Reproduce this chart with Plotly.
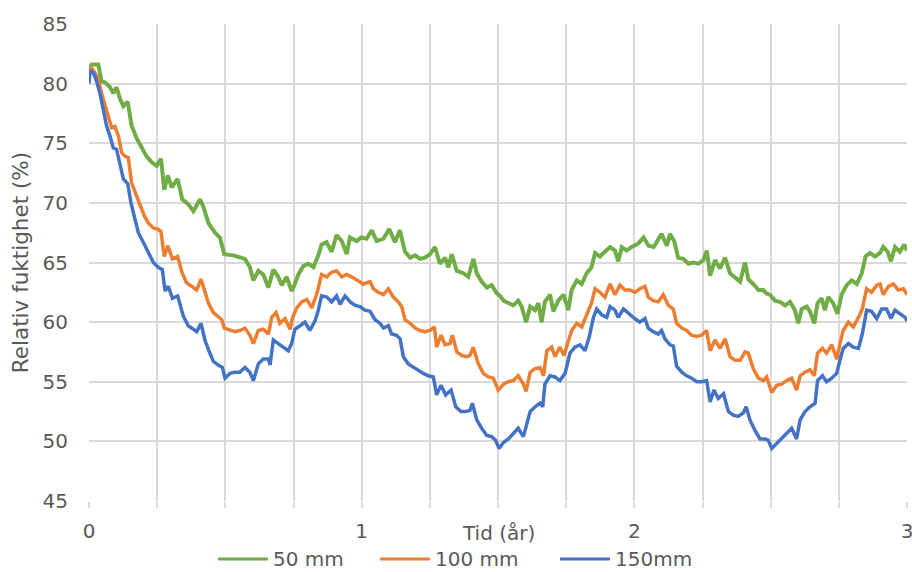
import plotly.graph_objects as go

# Relative humidity (%) over time (years) at three depths
t_50 = [0.000, 0.010, 0.034, 0.046, 0.059, 0.077, 0.089, 0.101, 0.114, 0.126, 0.142, 0.156, 0.175, 0.193,
        0.211, 0.230, 0.248, 0.264, 0.276, 0.289, 0.303, 0.325, 0.342, 0.364, 0.383, 0.407, 0.419, 0.438,
        0.462, 0.480, 0.496, 0.529, 0.554, 0.572, 0.590, 0.603, 0.621, 0.639, 0.658, 0.676, 0.694, 0.707,
        0.725, 0.743, 0.755, 0.768, 0.786, 0.804, 0.823, 0.841, 0.853, 0.871, 0.890, 0.908, 0.927, 0.945,
        0.957, 0.982, 0.998, 1.018, 1.037, 1.055, 1.080, 1.101, 1.122, 1.140, 1.159, 1.178, 1.196, 1.214,
        1.232, 1.251, 1.269, 1.287, 1.306, 1.318, 1.330, 1.349, 1.373, 1.391, 1.410, 1.422, 1.440, 1.459,
        1.477, 1.496, 1.508, 1.520, 1.538, 1.556, 1.574, 1.587, 1.603, 1.618, 1.636, 1.648, 1.660, 1.672,
        1.691, 1.703, 1.721, 1.740, 1.758, 1.770, 1.789, 1.807, 1.825, 1.843, 1.856, 1.874, 1.892, 1.911,
        1.929, 1.941, 1.954, 1.972, 1.990, 2.009, 2.015, 2.034, 2.052, 2.071, 2.083, 2.100, 2.119, 2.131,
        2.146, 2.161, 2.180, 2.198, 2.217, 2.235, 2.253, 2.266, 2.278, 2.296, 2.314, 2.333, 2.351, 2.369,
        2.388, 2.406, 2.418, 2.436, 2.455, 2.473, 2.485, 2.497, 2.516, 2.534, 2.553, 2.571, 2.589, 2.601,
        2.614, 2.632, 2.644, 2.660, 2.672, 2.687, 2.699, 2.711, 2.729, 2.745, 2.760, 2.779, 2.797, 2.816,
        2.834, 2.848, 2.864, 2.883, 2.901, 2.913, 2.929, 2.941, 2.956, 2.974, 2.990, 3.000]
rh_50 = [81.3, 81.6, 81.6, 80.2, 80.1, 79.7, 79.2, 79.7, 78.7, 78.1, 78.5, 76.5, 75.4, 74.6,
         73.9, 73.4, 73.1, 73.7, 71.1, 72.3, 71.3, 72.0, 70.3, 69.9, 69.3, 70.3, 69.7, 68.3,
         67.5, 67.1, 65.7, 65.6, 65.4, 65.3, 64.6, 63.5, 64.3, 64.0, 62.9, 64.4, 63.8, 63.1,
         63.8, 62.6, 63.2, 64.0, 64.7, 64.9, 64.6, 65.6, 66.5, 66.7, 65.9, 67.3, 66.8, 65.7,
         67.1, 66.8, 67.1, 67.0, 67.7, 66.8, 67.0, 67.8, 66.7, 67.7, 65.9, 65.4, 65.6, 65.3,
         65.4, 65.7, 66.3, 64.9, 65.4, 64.6, 65.7, 64.3, 64.1, 63.8, 65.3, 64.1, 63.4, 62.9,
         63.1, 62.4, 62.2, 61.8, 61.6, 61.4, 61.8, 61.3, 60.0, 61.3, 61.0, 61.6, 60.0, 61.7,
         62.3, 60.9, 61.8, 62.3, 61.0, 62.7, 63.5, 63.2, 64.1, 64.6, 65.8, 65.5, 65.9, 66.3,
         66.0, 65.1, 66.3, 66.0, 66.3, 66.5, 66.6, 67.1, 66.4, 66.3, 66.7, 67.4, 66.4, 67.4,
         66.8, 65.4, 65.3, 64.9, 65.0, 64.9, 65.2, 66.0, 63.9, 65.2, 64.5, 65.4, 64.1, 63.8,
         63.4, 65.0, 63.6, 63.2, 62.7, 62.7, 62.4, 62.3, 61.8, 61.7, 61.4, 61.7, 61.0, 59.9,
         61.1, 61.3, 60.9, 59.9, 61.6, 62.0, 61.0, 62.1, 61.6, 60.7, 62.3, 63.1, 63.5, 63.2,
         64.1, 65.5, 65.8, 65.5, 65.8, 66.3, 65.9, 65.1, 66.3, 65.9, 66.5, 66.0]

t_100 = [0.000, 0.010, 0.022, 0.034, 0.046, 0.059, 0.071, 0.083, 0.095, 0.108, 0.120, 0.132, 0.144, 0.156,
         0.169, 0.187, 0.203, 0.218, 0.236, 0.252, 0.264, 0.276, 0.289, 0.306, 0.325, 0.342, 0.358, 0.377,
         0.395, 0.411, 0.423, 0.438, 0.456, 0.474, 0.487, 0.496, 0.517, 0.535, 0.553, 0.572, 0.590, 0.603,
         0.621, 0.639, 0.658, 0.670, 0.686, 0.700, 0.719, 0.737, 0.747, 0.762, 0.780, 0.799, 0.817, 0.836,
         0.853, 0.872, 0.890, 0.908, 0.927, 0.945, 0.963, 0.982, 1.006, 1.031, 1.043, 1.061, 1.080, 1.098,
         1.116, 1.134, 1.147, 1.159, 1.178, 1.196, 1.214, 1.232, 1.251, 1.267, 1.275, 1.291, 1.306, 1.324,
         1.333, 1.349, 1.367, 1.386, 1.397, 1.409, 1.428, 1.446, 1.465, 1.483, 1.501, 1.520, 1.538, 1.556,
         1.574, 1.593, 1.603, 1.618, 1.636, 1.654, 1.667, 1.679, 1.697, 1.709, 1.727, 1.742, 1.758, 1.770,
         1.789, 1.807, 1.825, 1.843, 1.856, 1.874, 1.892, 1.911, 1.929, 1.947, 1.966, 1.984, 2.002, 2.020,
         2.039, 2.051, 2.069, 2.088, 2.106, 2.125, 2.143, 2.155, 2.174, 2.192, 2.210, 2.229, 2.247, 2.265,
         2.278, 2.296, 2.314, 2.333, 2.351, 2.369, 2.388, 2.406, 2.418, 2.436, 2.455, 2.473, 2.485, 2.498,
         2.504, 2.522, 2.540, 2.559, 2.577, 2.595, 2.608, 2.626, 2.644, 2.660, 2.672, 2.690, 2.705, 2.724,
         2.742, 2.754, 2.766, 2.785, 2.803, 2.822, 2.836, 2.852, 2.870, 2.889, 2.901, 2.913, 2.932, 2.950,
         2.968, 2.987, 3.000]
rh_100 = [81.2, 81.3, 80.9, 80.4, 79.2, 78.1, 77.3, 76.3, 76.4, 75.6, 74.2, 73.9, 73.8, 71.7,
          70.9, 69.9, 68.9, 68.3, 67.9, 67.8, 67.6, 65.5, 66.4, 65.3, 65.5, 64.1, 63.3, 63.0,
          62.7, 63.6, 62.7, 61.6, 60.8, 60.5, 60.2, 59.5, 59.3, 59.2, 59.3, 59.5, 58.9, 58.2,
          59.3, 59.4, 59.0, 60.4, 60.8, 59.9, 60.3, 59.4, 60.4, 61.2, 61.7, 61.9, 61.2, 62.4,
          64.0, 63.8, 64.2, 64.3, 63.8, 64.0, 63.8, 63.5, 63.2, 63.4, 62.8, 62.5, 62.3, 62.8,
          62.1, 61.7, 61.3, 60.2, 59.9, 59.5, 59.3, 59.2, 59.3, 59.6, 57.9, 58.9, 58.1, 58.2,
          58.9, 57.5, 57.2, 57.1, 57.2, 57.9, 56.5, 55.7, 55.4, 55.3, 54.3, 54.8, 55.0, 55.1,
          55.5, 54.8, 54.2, 55.8, 56.1, 56.2, 55.5, 57.6, 57.9, 57.1, 57.9, 57.2, 58.5, 59.3,
          59.9, 59.6, 60.6, 61.6, 62.8, 62.5, 62.1, 63.2, 62.3, 63.1, 62.7, 62.7, 62.5, 62.8,
          63.0, 62.1, 61.8, 61.7, 62.3, 61.4, 61.1, 59.9, 59.5, 59.3, 58.9, 58.8, 58.9, 59.3,
          57.6, 58.5, 57.8, 58.6, 57.1, 56.8, 56.8, 57.5, 57.4, 56.1, 55.3, 55.1, 55.4, 54.4,
          54.1, 54.7, 54.8, 55.1, 55.3, 54.3, 55.5, 55.8, 56.0, 55.5, 57.4, 57.8, 57.4, 58.1,
          56.9, 58.2, 59.3, 60.0, 59.6, 60.4, 61.1, 62.8, 62.5, 63.1, 63.2, 62.3, 63.0, 63.2,
          62.7, 62.8, 62.3]

t_150 = [0.000, 0.004, 0.016, 0.028, 0.040, 0.053, 0.065, 0.077, 0.089, 0.101, 0.114, 0.126, 0.142, 0.154,
         0.169, 0.181, 0.199, 0.218, 0.236, 0.254, 0.269, 0.279, 0.291, 0.306, 0.325, 0.346, 0.364, 0.383,
         0.395, 0.411, 0.425, 0.438, 0.456, 0.474, 0.489, 0.499, 0.517, 0.535, 0.553, 0.572, 0.590, 0.603,
         0.621, 0.639, 0.658, 0.664, 0.676, 0.694, 0.714, 0.731, 0.743, 0.755, 0.774, 0.792, 0.810, 0.829,
         0.841, 0.853, 0.872, 0.890, 0.908, 0.921, 0.939, 0.958, 0.976, 0.994, 1.012, 1.031, 1.049, 1.067,
         1.080, 1.098, 1.110, 1.128, 1.141, 1.153, 1.171, 1.190, 1.208, 1.226, 1.244, 1.263, 1.275, 1.291,
         1.308, 1.328, 1.345, 1.364, 1.381, 1.397, 1.406, 1.422, 1.440, 1.459, 1.477, 1.491, 1.504, 1.520,
         1.538, 1.556, 1.574, 1.593, 1.603, 1.618, 1.636, 1.654, 1.664, 1.672, 1.691, 1.709, 1.727, 1.746,
         1.764, 1.782, 1.801, 1.819, 1.835, 1.850, 1.862, 1.881, 1.899, 1.911, 1.929, 1.941, 1.960, 1.978,
         1.996, 2.020, 2.039, 2.051, 2.069, 2.088, 2.100, 2.112, 2.131, 2.143, 2.155, 2.174, 2.192, 2.210,
         2.229, 2.247, 2.265, 2.278, 2.292, 2.308, 2.327, 2.345, 2.363, 2.381, 2.400, 2.410, 2.424, 2.443,
         2.461, 2.479, 2.491, 2.504, 2.522, 2.540, 2.559, 2.577, 2.595, 2.608, 2.626, 2.644, 2.663, 2.672,
         2.690, 2.705, 2.724, 2.742, 2.754, 2.766, 2.785, 2.803, 2.822, 2.836, 2.852, 2.870, 2.889, 2.907,
         2.925, 2.941, 2.956, 2.974, 2.993, 3.000]
rh_150 = [80.0, 81.1, 80.9, 80.2, 79.2, 77.8, 76.4, 75.6, 74.6, 74.5, 73.1, 72.0, 71.6, 70.0,
          68.6, 67.5, 66.7, 65.8, 65.0, 64.6, 64.4, 62.6, 63.0, 62.0, 62.2, 60.5, 59.7, 59.4,
          59.2, 59.9, 58.5, 57.7, 56.7, 56.4, 56.2, 55.3, 55.7, 55.8, 55.8, 56.2, 55.8, 55.1,
          56.5, 56.9, 56.9, 56.4, 58.5, 58.2, 57.9, 57.6, 58.2, 59.4, 59.7, 60.0, 59.3, 60.1,
          61.0, 62.2, 62.1, 61.7, 62.2, 61.5, 62.2, 61.7, 61.4, 61.3, 61.0, 60.9, 60.2, 59.9,
          59.5, 59.7, 59.0, 58.9, 58.6, 57.1, 56.5, 56.2, 56.0, 55.7, 55.5, 55.4, 53.9, 54.7,
          53.9, 54.3, 52.9, 52.5, 52.5, 52.6, 53.2, 51.8, 51.1, 50.5, 50.4, 50.1, 49.4, 49.9,
          50.2, 50.6, 51.1, 50.4, 51.2, 52.5, 52.9, 53.2, 52.9, 54.8, 55.5, 55.4, 55.1, 55.7,
          57.4, 57.9, 58.1, 57.6, 58.8, 60.4, 61.1, 60.6, 60.4, 61.3, 61.0, 60.4, 61.1, 60.7,
          60.4, 60.0, 60.3, 59.5, 59.2, 59.0, 59.3, 58.6, 58.1, 58.0, 56.3, 55.8, 55.5, 55.3,
          55.0, 55.0, 55.1, 53.3, 54.3, 53.6, 54.0, 52.5, 52.2, 52.1, 52.4, 52.9, 51.8, 50.9,
          50.2, 50.2, 50.1, 49.4, 49.8, 50.2, 50.6, 51.1, 50.2, 51.8, 52.5, 52.9, 53.2, 55.1,
          55.5, 55.0, 55.3, 55.7, 56.8, 57.8, 58.2, 57.9, 57.8, 59.0, 61.0, 60.9, 60.3, 61.1,
          61.1, 60.3, 61.0, 60.7, 60.4, 60.1]

series_names = ["50 mm", "100 mm", "150mm"]
series_colors = ["#70AD47", "#ED7D31", "#4472C4"]
series_widths = [4, 3.5, 3.5]

x_ticks = [0, 0.25, 0.5, 0.75, 1, 1.25, 1.5, 1.75, 2, 2.25, 2.5, 2.75, 3]
x_tick_text = ["0", "", "", "", "1", "", "", "", "2", "", "", "", "3"]
y_ticks = [45, 50, 55, 60, 65, 70, 75, 80, 85]

FONT = "DejaVu Sans"
TEXT = "#595959"
GRID = "#D9D9D9"

fig = go.Figure()
for t, rh, name, color, w in zip([t_50, t_100, t_150], [rh_50, rh_100, rh_150],
                                 series_names, series_colors, series_widths):
    fig.add_trace(go.Scatter(x=t, y=rh, mode="lines", name=name, showlegend=False,
                             line=dict(color=color, width=w)))

# Legend row below the axis: a line sample followed by the series name
legend_x = [0.1577, 0.3557, 0.5758]   # paper x of each sample's left end
legend_y = -0.1215
sample_len = 0.0611
shapes, annotations = [], []
for x0, name, color in zip(legend_x, series_names, series_colors):
    shapes.append(dict(type="line", xref="paper", yref="paper",
                       x0=x0, x1=x0 + sample_len, y0=legend_y, y1=legend_y,
                       line=dict(color=color, width=3)))
    annotations.append(dict(text=name, xref="paper", yref="paper",
                            x=x0 + sample_len + 0.004, y=legend_y,
                            xanchor="left", yanchor="middle", showarrow=False,
                            font=dict(family=FONT, size=20, color=TEXT)))

annotations.append(dict(text="Tid (år)", x=0.5, xref="paper", y=-0.067, yref="paper",
                        xanchor="center", yanchor="middle", showarrow=False,
                        font=dict(family=FONT, size=20, color=TEXT)))

fig.update_layout(
    width=912, height=572,
    margin=dict(l=89, r=5, t=24, b=71, autoexpand=False),
    paper_bgcolor="white", plot_bgcolor="white",
    font=dict(family=FONT, size=20, color=TEXT),
    showlegend=False,
    shapes=shapes,
    annotations=annotations,
)
fig.update_xaxes(range=[0, 3], tickvals=x_ticks, ticktext=x_tick_text,
                 showgrid=True, gridcolor=GRID, gridwidth=2, zeroline=False,
                 showline=False, ticks="outside", ticklen=6, tickcolor=GRID, tickwidth=2,
                 ticklabelstandoff=6, ticklabeloverflow="allow", automargin=False,
                 tickfont=dict(family=FONT, size=20, color=TEXT))
fig.update_yaxes(range=[45, 85], tickvals=y_ticks,
                 showgrid=True, gridcolor=GRID, gridwidth=2, zeroline=False,
                 showline=False, ticks="", ticklabelstandoff=20, automargin=False,
                 title=dict(text="Relativ fuktighet (%)", standoff=8,
                            font=dict(family=FONT, size=21.5, color=TEXT)),
                 tickfont=dict(family=FONT, size=20, color=TEXT))

fig.write_html("out.html")
